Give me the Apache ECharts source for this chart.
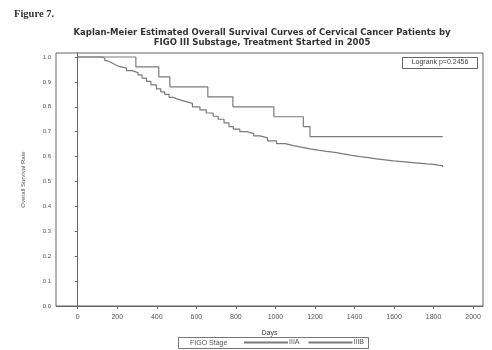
<!DOCTYPE html>
<html><head><meta charset="utf-8">
<script src="https://cdn.jsdelivr.net/npm/echarts@6/dist/echarts.min.js"></script>
<style>html,body{margin:0;padding:0;background:#fff}#c{width:492px;height:350px}</style>
</head><body><div id="c"></div>
<script>
const xTicks = [0,200,400,600,800,1000,1200,1400,1600,1800,2000];
const yTicks = [0,0.1,0.2,0.3,0.4,0.5,0.6,0.7,0.8,0.9,1.0];
const iiiaDays = [0,294,410,466,658,785,992,1141,1175,1846];
const iiiaSurv = [1.0,0.96,0.92,0.88,0.84,0.80,0.76,0.72,0.68,0.68];
const iiibDays = [0,125,137,150,170,187,210,246,275,305,325,348,370,398,420,440,462,483,510,542,580,618,650,685,710,740,765,787,820,854,890,922,960,1006,1050,1090,1130,1175,1215,1259,1300,1343,1385,1428,1470,1512,1555,1597,1640,1681,1725,1766,1800,1824,1846];
const iiibSurv = [1.0,0.995,0.985,0.978,0.97,0.962,0.955,0.945,0.937,0.928,0.915,0.902,0.888,0.872,0.86,0.85,0.838,0.83,0.822,0.814,0.8,0.788,0.775,0.762,0.75,0.735,0.72,0.71,0.7,0.692,0.683,0.675,0.663,0.652,0.644,0.638,0.631,0.626,0.621,0.617,0.611,0.605,0.6,0.596,0.591,0.587,0.583,0.58,0.577,0.574,0.571,0.569,0.566,0.564,0.558];

const lineColor = '#7a7a7a';
const font = 'Liberation Sans, Arial, sans-serif';
const chart = echarts.init(document.getElementById('c'));
chart.setOption({
  backgroundColor: '#fff',
  animation: false,
  grid: {left: 56, top: 53, right: 9, bottom: 44, show: true, borderColor: '#666', borderWidth: 1},
  xAxis: {
    type: 'value', min: -110, max: 2050,
    name: 'Days', nameLocation: 'middle', nameGap: 24,
    nameTextStyle: {fontSize: 7, color: '#444', fontFamily: font},
    axisLine: {show: true, lineStyle: {color: '#666'}},
    axisTick: {show: true, length: 3, customValues: xTicks, lineStyle: {color: '#666'}},
    axisLabel: {customValues: xTicks, fontSize: 7, color: '#555', fontFamily: font, margin: 8,
      formatter: v => String(v)},
    splitLine: {show: false}
  },
  yAxis: {
    type: 'value', min: 0, max: 1.016,
    name: 'Overall Survival Rate', nameLocation: 'middle', nameGap: 30,
    nameTextStyle: {fontSize: 6, color: '#555', fontFamily: font},
    axisLine: {show: true, lineStyle: {color: '#666'}},
    axisTick: {show: true, length: 3, customValues: yTicks, lineStyle: {color: '#666'}},
    axisLabel: {customValues: yTicks, fontSize: 6, color: '#555', fontFamily: font, margin: 5,
      formatter: v => v.toFixed(1)},
    splitLine: {show: false}
  },
  legend: {
    left: 238, top: 334, itemWidth: 44, itemHeight: 8, itemGap: 8,
    itemStyle: {opacity: 0},
    textStyle: {fontSize: 7, color: '#555', fontFamily: font, padding: [0,0,0,-4]},
    data: ['IIIA', 'IIIB']
  },
  graphic: [
    {type: 'text', left: 14, top: 9, style: {text: 'Figure 7.', font: 'bold 10.5px "Liberation Serif", serif', fill: '#333'}},
    {type: 'text', x: 262, y: 28, style: {text: 'Kaplan-Meier Estimated Overall Survival Curves of Cervical Cancer Patients by\nFIGO III Substage, Treatment Started in 2005', font: 'bold 8.5px "DejaVu Sans", sans-serif', fill: '#333', align: 'center', lineHeight: 10}},
    {type: 'rect', shape: {x: 402.5, y: 57.5, width: 75, height: 11}, style: {fill: '#fff', stroke: '#666', lineWidth: 1}},
    {type: 'text', x: 440, y: 59, style: {text: 'Logrank p=0.2456', font: '7px "Liberation Sans", Arial, sans-serif', fill: '#444', align: 'center'}},
    {type: 'rect', shape: {x: 178.5, y: 337.5, width: 190, height: 11}, style: {fill: 'none', stroke: '#777', lineWidth: 1}},
    {type: 'text', x: 190, y: 339.5, style: {text: 'FIGO Stage', font: '7px "Liberation Sans", Arial, sans-serif', fill: '#555'}}
  ],
  series: [
    {name: 'IIIA', type: 'line', step: 'end', symbol: 'none', data: iiiaDays.map((d,i)=>[d, iiiaSurv[i]]),
     lineStyle: {color: lineColor, width: 1.2}, itemStyle: {color: lineColor}},
    {name: 'IIIB', type: 'line', step: 'end', symbol: 'none', data: iiibDays.map((d,i)=>[d, iiibSurv[i]]),
     lineStyle: {color: lineColor, width: 1.2}, itemStyle: {color: lineColor}}
  ]
});
</script></body></html>
